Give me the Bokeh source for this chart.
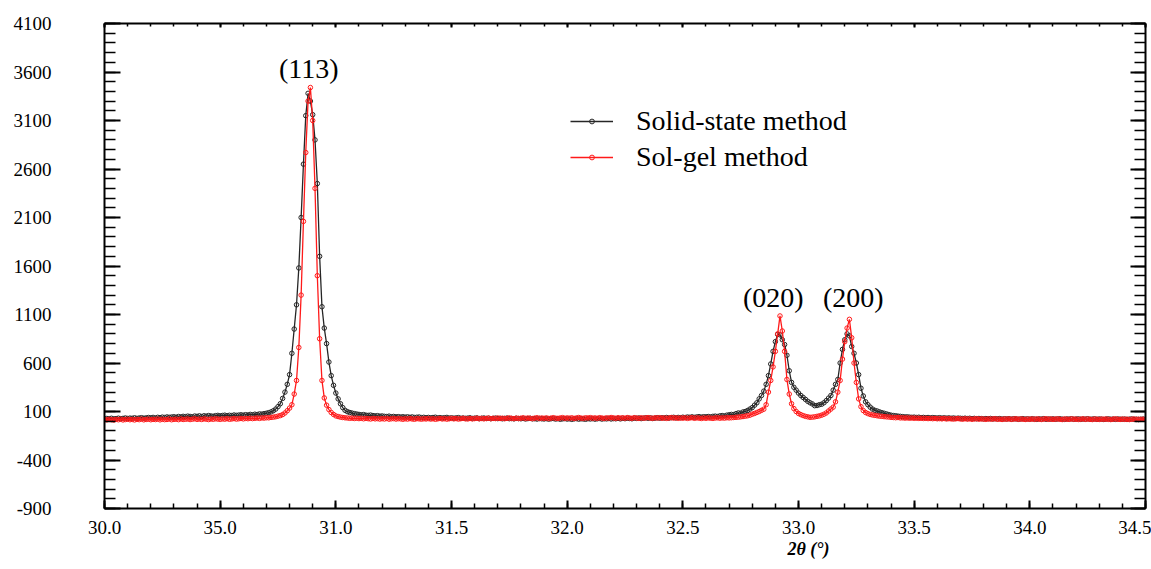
from bokeh.plotting import figure
from bokeh.models import (Range1d, LinearAxis, FixedTicker, Label, Legend,
                          LegendItem, CustomJSTickFormatter, Title)
from bokeh.embed import file_html
from bokeh.resources import INLINE

# 2-theta sampling grid, 0.01 degree step from 30.00 to 34.50
two_theta = [round(30 + i / 100, 2) for i in range(451)]

# Intensity, solid-state route (one row per 0.1 degree)
solid_state = [
    22, 28, 25, 30, 24, 27, 31, 26, 29, 33,
    28, 32, 30, 35, 29, 33, 36, 31, 34, 38,
    35, 39, 33, 40, 37, 42, 38, 44, 40, 43,
    46, 41, 48, 44, 50, 47, 52, 49, 45, 53,
    50, 55, 48, 56, 52, 58, 54, 51, 57, 60,
    55, 59, 62, 57, 61, 58, 64, 60, 63, 66,
    62, 67, 64, 70, 66, 72, 69, 75, 73, 78,
    82, 88, 96, 108, 125, 150, 180, 235, 300, 380,
    480, 700, 950, 1200, 1580, 2100, 2650, 3150, 3380, 3300,
    3160, 2900, 2450, 1700, 1180, 960, 800, 610, 470, 370,
    290, 230, 180, 140, 112, 98, 90, 84, 78, 74,
    70, 66, 68, 62, 60, 63, 58, 55, 57, 52,
    54, 50, 48, 52, 46, 49, 45, 47, 43, 46,
    42, 45, 40, 44, 38, 41, 43, 37, 40, 36,
    39, 35, 38, 41, 34, 37, 33, 36, 39, 32,
    35, 31, 34, 37, 30, 33, 29, 32, 35, 28,
    31, 34, 27, 30, 33, 28, 31, 26, 29, 32,
    27, 30, 25, 29, 32, 26, 28, 24, 30, 27,
    25, 29, 23, 27, 30, 24, 26, 22, 28, 25,
    23, 27, 21, 25, 28, 22, 26, 20, 24, 27,
    22, 25, 19, 24, 27, 21, 25, 23, 20, 26,
    23, 27, 21, 25, 29, 22, 26, 24, 28, 23,
    27, 25, 29, 24, 30, 26, 31, 28, 25, 32,
    29, 33, 27, 31, 35, 30, 34, 28, 32, 36,
    31, 35, 33, 38, 32, 37, 40, 34, 39, 36,
    41, 38, 43, 40, 45, 39, 44, 47, 42, 46,
    45, 48, 44, 50, 52, 48, 55, 58, 54, 62,
    66, 70, 68, 78, 85, 82, 95, 100, 110, 125,
    140, 165, 190, 230, 265, 310, 380, 470, 590, 720,
    820, 895, 890, 840, 790, 680, 520, 400, 350, 320,
    290, 265, 245, 225, 205, 190, 178, 160, 162, 170,
    175, 190, 212, 238, 265, 320, 380, 430, 600, 740,
    840, 900, 880, 770, 700, 600, 480, 340, 260, 200,
    170, 145, 125, 112, 105, 96, 88, 82, 75, 68,
    62, 58, 56, 52, 50, 47, 44, 45, 42, 40,
    42, 38, 41, 37, 39, 36, 38, 34, 37, 35,
    33, 36, 32, 35, 31, 34, 30, 33, 29, 32,
    30, 28, 31, 27, 30, 26, 29, 25, 28, 27,
    24, 27, 25, 28, 23, 26, 24, 27, 22, 25,
    23, 26, 21, 25, 24, 20, 23, 26, 22, 24,
    21, 25, 22, 19, 24, 22, 26, 20, 23, 21,
    24, 20, 23, 25, 21, 19, 23, 22, 25, 20,
    22, 24, 19, 23, 21, 25, 20, 22, 24, 19,
    23, 21, 18, 22, 24, 20, 22, 19, 23, 21,
    20, 22, 18, 21, 23, 19, 21, 17, 20, 22,
    19,
]

# Intensity, sol-gel route (one row per 0.1 degree)
sol_gel = [
    18, 14, 20, 16, 12, 19, 15, 21, 13, 17,
    20, 15, 18, 13, 19, 16, 22, 14, 18, 21,
    15, 19, 17, 22, 14, 20, 16, 18, 23, 15,
    19, 21, 16, 24, 18, 20, 23, 17, 21, 25,
    19, 22, 18, 24, 21, 17, 23, 20, 25, 22,
    19, 24, 21, 26, 20, 23, 27, 22, 25, 28,
    24, 29, 26, 31, 27, 30, 33, 29, 34, 32,
    36, 35, 39, 42, 46, 52, 58, 68, 85, 108,
    135, 170, 280, 420, 760, 1300, 2060, 2770, 3300, 3440,
    3100, 2400, 1500, 850, 420, 240, 165, 120, 90, 70,
    55, 48, 42, 38, 35, 33, 30, 32, 28, 31,
    27, 30, 25, 29, 26, 23, 28, 24, 27, 22,
    26, 23, 28, 21, 25, 27, 22, 26, 24, 20,
    25, 22, 27, 23, 20, 26, 24, 21, 25, 23,
    27, 22, 25, 20, 24, 28, 23, 26, 21, 25,
    29, 24, 27, 22, 26, 30, 25, 23, 28, 24,
    27, 31, 25, 29, 24, 28, 32, 26, 30, 27,
    33, 28, 31, 26, 30, 34, 29, 27, 32, 28,
    31, 35, 29, 33, 30, 27, 32, 36, 29, 33,
    30, 34, 28, 32, 36, 31, 29, 33, 37, 30,
    34, 31, 35, 29, 33, 38, 32, 30, 35, 33,
    37, 31, 34, 30, 36, 33, 29, 35, 32, 38,
    34, 30, 36, 32, 35, 31, 37, 33, 30, 36,
    33, 29, 35, 31, 34, 37, 32, 30, 35, 33,
    36, 31, 34, 29, 33, 37, 32, 35, 30, 34,
    31, 35, 29, 33, 36, 30, 34, 32, 28, 33,
    30, 34, 31, 29, 33, 35, 31, 34, 32, 36,
    34, 36, 38, 40, 42, 45, 48, 52, 56, 62,
    72, 80, 90, 100, 112, 124, 170, 300, 420, 560,
    720, 900, 1085, 930, 720, 430, 280, 180, 130, 100,
    80, 68, 58, 50, 45, 40, 42, 45, 50, 55,
    62, 72, 85, 105, 125, 145, 200, 300, 420, 640,
    820, 960, 1050, 860, 600, 400, 230, 150, 110, 90,
    78, 70, 64, 60, 56, 52, 50, 47, 45, 43,
    40, 38, 36, 38, 34, 35, 32, 34, 31, 33,
    30, 32, 29, 31, 28, 30, 27, 29, 26, 28,
    25, 27, 24, 28, 23, 26, 24, 22, 25, 27,
    23, 21, 25, 22, 24, 20, 23, 26, 21, 24,
    22, 19, 24, 21, 23, 25, 20, 22, 18, 23,
    21, 24, 19, 22, 25, 20, 23, 21, 18, 22,
    20, 23, 19, 24, 21, 18, 22, 25, 20, 23,
    19, 22, 24, 20, 17, 23, 21, 19, 24, 20,
    22, 18, 21, 24, 19, 23, 20, 17, 22, 21,
    18, 22, 20, 23, 19, 17, 21, 24, 20, 18,
    22, 19, 21, 17, 20, 23, 18, 21, 19, 20,
    18,
]

assert len(solid_state) == len(two_theta) == len(sol_gel)

# Axis ticks and their printed labels
x_ticks = [30.0, 30.5, 31.0, 31.5, 32.0, 32.5, 33.0, 33.5, 34.0, 34.5]
x_tick_labels = ["30.0", "35.0", "31.0", "31.5", "32.0", "32.5",
                 "33.0", "33.5", "34.0", "34.5"]
x_minor = [round(30 + i / 10, 1) for i in range(46)]
y_ticks = [-900, -400, 100, 600, 1100, 1600, 2100, 2600, 3100, 3600, 4100]
y_minor = list(range(-900, 4101, 100))

# Reflection indices and where they are written
peak_names = ["(113)", "(020)", "(200)"]
peak_x = [30.883, 32.891, 33.237]
peak_y = [3633, 1272, 1272]

series_names = ["Solid-state method", "Sol-gel method"]
x_title = "2θ (°)"
SERIF = "Liberation Serif"
BLACK = "#262626"
RED = "#ff1a1a"

p = figure(width=1151, height=569, output_backend="svg", toolbar_location=None,
           x_range=Range1d(30, 34.5), y_range=Range1d(-900, 4100),
           x_axis_location=None, y_axis_location=None,
           min_border_left=104, min_border_right=6,
           min_border_top=23, min_border_bottom=61)
p.outline_line_color = None
p.grid.visible = False
p.background_fill_color = "white"
p.border_fill_color = "white"

blank = CustomJSTickFormatter(code="return ''")
x_fmt = CustomJSTickFormatter(
    args=dict(tick_vals=x_ticks, tick_txt=x_tick_labels),
    code="""
        const i = tick_vals.findIndex(t => Math.abs(t - tick) < 1e-6);
        return i < 0 ? '' : tick_txt[i];
    """)
y_fmt = CustomJSTickFormatter(code="return tick.toFixed(0);")


def make_axis(xdir, major_in, minor_in, formatter):
    ticker = FixedTicker(ticks=x_ticks if xdir else y_ticks,
                         minor_ticks=x_minor if xdir else y_minor)
    ax = LinearAxis(ticker=ticker, formatter=formatter)
    ax.axis_line_color = "black"
    ax.axis_line_width = 2
    ax.major_tick_line_color = "black"
    ax.major_tick_line_width = 2
    ax.minor_tick_line_color = "black"
    ax.minor_tick_line_width = 1.5
    ax.major_tick_in = major_in
    ax.major_tick_out = 0
    ax.minor_tick_in = minor_in
    ax.minor_tick_out = 0
    ax.major_label_text_font = SERIF
    ax.major_label_text_font_size = "19px"
    ax.major_label_text_color = "black"
    if formatter is blank:
        ax.major_label_standoff = 0
    return ax


bottom = make_axis(True, 8, 5, x_fmt)
bottom.major_label_standoff = 12
bottom.major_label_text_align = "right"
top = make_axis(True, 4, 3, blank)
left = make_axis(False, 16, 11, y_fmt)
left.major_label_standoff = 53
right = make_axis(False, 15, 11, blank)
p.add_layout(bottom, "below")
p.add_layout(top, "above")
p.add_layout(left, "left")
p.add_layout(right, "right")

# axis title, placed under the right half of the frame
p.add_layout(Title(text=x_title, align="left", offset=683, standoff=0,
                   text_font=SERIF, text_font_size="18px",
                   text_font_style="bold italic", text_color="black"),
             "below")

# diffraction curves
l1 = p.line(two_theta, solid_state, line_color=BLACK, line_width=1.3)
s1 = p.scatter(two_theta, solid_state, marker="circle", size=4.5,
               line_color=BLACK, fill_color=None, line_width=1)
l2 = p.line(two_theta, sol_gel, line_color=RED, line_width=1.3)
s2 = p.scatter(two_theta, sol_gel, marker="circle", size=4.5,
               line_color=RED, fill_color=None, line_width=1)

for name, xv, yv in zip(peak_names, peak_x, peak_y):
    p.add_layout(Label(x=xv, y=yv, text=name, text_font=SERIF,
                       text_font_size="28px", text_align="center",
                       text_baseline="middle", text_color="black"))

legend = Legend(items=[LegendItem(label=series_names[0], renderers=[l1, s1]),
                       LegendItem(label=series_names[1], renderers=[l2, s2])],
                location=(466, 335), padding=0, margin=0, spacing=4,
                glyph_width=43, glyph_height=12, label_standoff=23,
                label_text_font=SERIF, label_text_font_size="28px",
                label_text_color="black",
                border_line_color=None, background_fill_alpha=0)
p.add_layout(legend)

open("out.html", "w").write(file_html(p, INLINE))
